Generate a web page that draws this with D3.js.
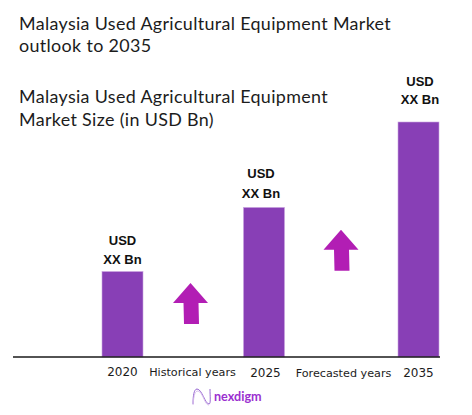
<!DOCTYPE html>
<html><head><meta charset="utf-8">
<script src="https://cdnjs.cloudflare.com/ajax/libs/d3/7.8.5/d3.min.js"></script>
<style>html,body{margin:0;padding:0;background:#fff}svg{display:block}</style>
</head><body><svg id="c" width="472" height="415"></svg>
<script>
const categories=["2020","Historical years","2025","Forecasted years","2035"];
const years=["2020","2025","2035"];
const values=[2.0,3.5,5.5];
const arrowCats=["Historical years","Forecasted years"];
const arrowBases=[0.77,2.02];
const titleLines=["Malaysia Used Agricultural Equipment Market","outlook to 2035"];
const subtitleLines=["Malaysia Used Agricultural Equipment","Market Size (in USD Bn)"];
const valueLabel=["USD","XX Bn"];
const svg=d3.select("#c");
const x=d3.scaleOrdinal().domain(categories).range([122.5,190.5,264,341,418.5]);
const y=d3.scaleLinear().domain([0,5.5]).range([357,122]);
const barW=41;
const head="'Lato','Noto Sans',sans-serif";
const drawLines=(lines,y0,lh)=>svg.append("g").selectAll("text").data(lines).join("text")
  .attr("x",19).attr("y",(d,i)=>y0+i*lh).attr("fill","#1c1c1c")
  .attr("font-family",head).attr("font-size",17.9).attr("letter-spacing",0.34).text(d=>d);
drawLines(titleLines,29.5,22.5);
drawLines(subtitleLines,103,22.5);
svg.append("g").selectAll("rect").data(years).join("rect")
  .attr("x",d=>x(d)-barW/2).attr("width",barW)
  .attr("y",(d,i)=>y(values[i])).attr("height",(d,i)=>y(0)-y(values[i]))
  .attr("fill","#883fb6").attr("stroke","#c9a3e0").attr("stroke-width",0.6);
svg.append("line").attr("x1",13).attr("x2",440).attr("y1",y(0)).attr("y2",y(0)).attr("stroke","#1a1a1a").attr("stroke-width",1.4);
const labelGap=[[27,8],[29,9],[36,18]];
const labelShift=[0,-3,1.5];
const labs=svg.append("g").selectAll("g").data(years).join("g");
valueLabel.forEach((t,k)=>labs.append("text").attr("x",(d,i)=>x(d)+labelShift[i]).attr("y",(d,i)=>y(values[i])-labelGap[i][k]).attr("text-anchor","middle")
  .attr("font-family","'Liberation Sans',Arial,sans-serif").attr("font-weight",700).attr("font-size",13).attr("fill","#111").text(t));
const tickDx=[0,2,1.5,2.5,0];
const tickDy=[0,0,0.5,1,1];
svg.append("g").selectAll("text").data(categories).join("text")
  .attr("x",(d,i)=>x(d)+tickDx[i]).attr("y",(d,i)=>376+tickDy[i]).attr("text-anchor","middle")
  .attr("font-family","'DejaVu Sans',sans-serif").attr("font-size",d=>d.length>4?11.2:12).attr("fill","#1c1c1c").text(d=>d);
const arrow=d3.line()([[0,0],[17.5,20],[8,20],[8.5,41],[-6.5,41],[-7,20],[-17.5,20]])+"Z";
svg.append("g").selectAll("path").data(arrowCats).join("path")
  .attr("transform",(d,i)=>`translate(${x(d)},${y(arrowBases[i])-41})`)
  .attr("d",arrow).attr("fill","#b21eb4");
const logo=svg.append("g");
logo.append("path").attr("d","M193 404 C193 396 194 389 197 389 C202 389 205 404 209 404 C211 404 210 396 210 389").attr("fill","none").attr("stroke","#8a55cc").attr("stroke-width",0.9);
logo.append("path").attr("d","M193 405 C194 394 195 391 198 391 C203 392 205 406 209 405").attr("fill","none").attr("stroke","#d4b8ea").attr("stroke-width",0.9);
logo.append("text").attr("x",214).attr("y",401).attr("font-family","'Lato',sans-serif").attr("font-weight",700).attr("font-size",12.6).attr("fill","#9b30d0").text("nexdigm");
</script></body></html>
